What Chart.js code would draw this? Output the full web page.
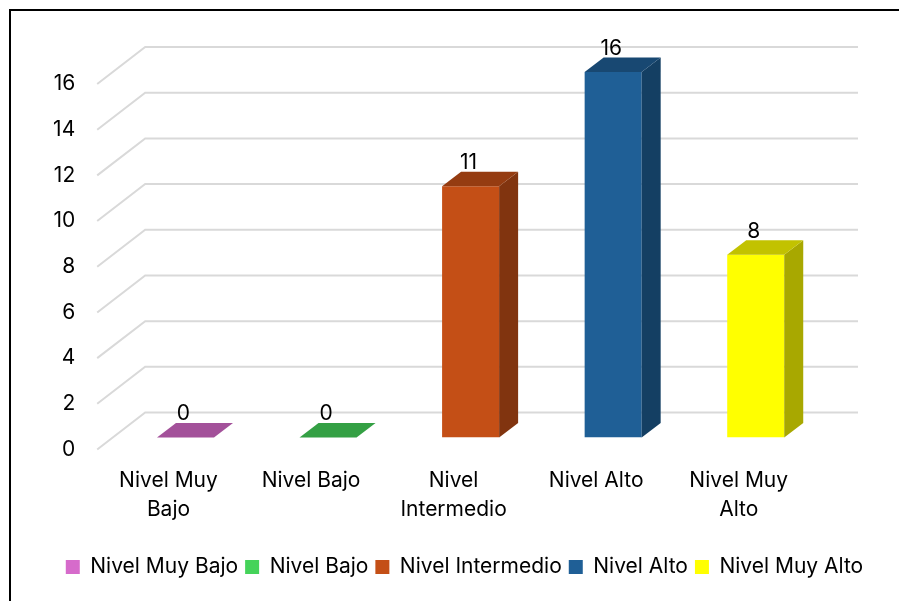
<!DOCTYPE html>
<html>
<head>
<meta charset="utf-8">
<script src="https://cdn.jsdelivr.net/npm/chart.js@4.4.1/dist/chart.umd.min.js"></script>
<style>
  body { margin: 0; background: #fff; }
  #frame { position: absolute; left: 9px; top: 9px; width: 1000px; height: 1000px; border: 2px solid #000; }
  #wrap { position: absolute; left: 0; top: 0; width: 899px; height: 601px; }
</style>
</head>
<body>
<div id="frame"></div>
<div id="wrap"><canvas id="myChart" width="899" height="601"></canvas></div>
<script>
// datos del gráfico
const categorias = [['Nivel Muy', 'Bajo'], 'Nivel Bajo', ['Nivel', 'Intermedio'], 'Nivel Alto', ['Nivel Muy', 'Alto']]
const nombres = ['Nivel Muy Bajo', 'Nivel Bajo', 'Nivel Intermedio', 'Nivel Alto', 'Nivel Muy Alto']
const valores = [0, 0, 11, 16, 8]
const colores = ['#D66BCB', '#45D35A', '#C44F16', '#1F5F96', '#FFFF00']
const ticksY = [0, 2, 4, 6, 8, 10, 12, 14, 16]

const fuente = "'Inter', 'Liberation Sans', sans-serif"

// sombra para las caras del 3D
function oscurecer(hex, f) {
    const n = parseInt(hex.slice(1), 16)
    const r = Math.round(((n >> 16) & 255) * f)
    const g = Math.round(((n >> 8) & 255) * f)
    const b = Math.round((n & 255) * f)
    return 'rgb(' + r + ',' + g + ',' + b + ')'
}

// profundidad de la barra y del piso
const prof = { dx: 19, dy: -14.5 }

const plugin3d = {
    id: 'plugin3d',
    beforeDatasetsDraw(chart) {
        const ctx = chart.ctx
        const y = chart.scales.y
        const area = chart.chartArea
        ctx.save()
        ctx.strokeStyle = '#D9D9D9'
        ctx.lineWidth = 2
        ticksY.forEach(v => {
            const py = y.getPixelForValue(v)
            ctx.beginPath()
            ctx.moveTo(area.left - 17, py + 12)
            ctx.lineTo(area.left + 31, py - 25)
            ctx.lineTo(area.right + 31, py - 25)
            ctx.stroke()
        })
        ctx.restore()
    },
    afterDatasetsDraw(chart) {
        const ctx = chart.ctx
        const meta = chart.getDatasetMeta(0)
        ctx.save()
        meta.data.forEach((bar, i) => {
            const l = bar.x - bar.width / 2
            const r = bar.x + bar.width / 2
            const t = bar.y
            const b = bar.base
            const color = colores[i]
            // cara lateral
            if (b - t > 0) {
                ctx.fillStyle = oscurecer(color, 0.66)
                ctx.beginPath()
                ctx.moveTo(r, t)
                ctx.lineTo(r + prof.dx, t + prof.dy)
                ctx.lineTo(r + prof.dx, b + prof.dy)
                ctx.lineTo(r, b)
                ctx.closePath()
                ctx.fill()
            }
            // cara superior
            ctx.fillStyle = oscurecer(color, 0.76)
            ctx.beginPath()
            ctx.moveTo(l, t)
            ctx.lineTo(l + prof.dx, t + prof.dy)
            ctx.lineTo(r + prof.dx, t + prof.dy)
            ctx.lineTo(r, t)
            ctx.closePath()
            ctx.fill()
            // etiqueta
            ctx.fillStyle = '#000'
            ctx.font = '21px ' + fuente
            ctx.textAlign = 'center'
            ctx.textBaseline = 'middle'
            ctx.fillText(valores[i], bar.x - 2, t + prof.dy - 9)
        })
        ctx.restore()
    }
}

const ctx = document.getElementById('myChart').getContext('2d')

new Chart(ctx, {
    type: 'bar',
    data: {
        labels: categorias,
        datasets: [{
            data: valores,
            backgroundColor: colores,
            borderWidth: 0,
            barPercentage: 0.4,
            categoryPercentage: 1
        }]
    },
    options: {
        responsive: false,
        animation: false,
        layout: { padding: { left: 30, right: 0, top: 72, bottom: 13.5 } },
        plugins: {
            tooltip: { enabled: false },
            legend: {
                position: 'bottom',
                labels: {
                    boxWidth: 14,
                    boxHeight: 14,
                    padding: 7,
                    color: '#000',
                    font: { size: 21, family: fuente },
                    generateLabels: () => nombres.map((n, i) => ({
                        text: n,
                        fillStyle: colores[i],
                        strokeStyle: colores[i],
                        lineWidth: 0,
                        hidden: false,
                        index: i
                    }))
                }
            }
        },
        scales: {
            x: {
                grid: { display: false },
                border: { display: false },
                ticks: {
                    color: '#000',
                    font: { size: 21, family: fuente, lineHeight: 1.38 },
                    padding: 20.5,
                    labelOffset: -17,
                    maxRotation: 0,
                    autoSkip: false
                },
                afterFit: s => { s.height = 112 }
            },
            y: {
                min: 0,
                max: 16,
                grid: { display: false },
                border: { display: false },
                ticks: {
                    stepSize: 2,
                    color: '#000',
                    font: { size: 21, family: fuente },
                    padding: 31,
                    labelOffset: 12
                },
                afterFit: s => { s.width = 84.2 }
            },
            // eje vacío a la derecha, solo reserva espacio
            derecha: {
                type: 'linear',
                position: 'right',
                grid: { display: false },
                border: { display: false },
                ticks: { display: false },
                afterFit: s => { s.width = 72 }
            }
        }
    },
    plugins: [plugin3d]
})
</script>
</body>
</html>
